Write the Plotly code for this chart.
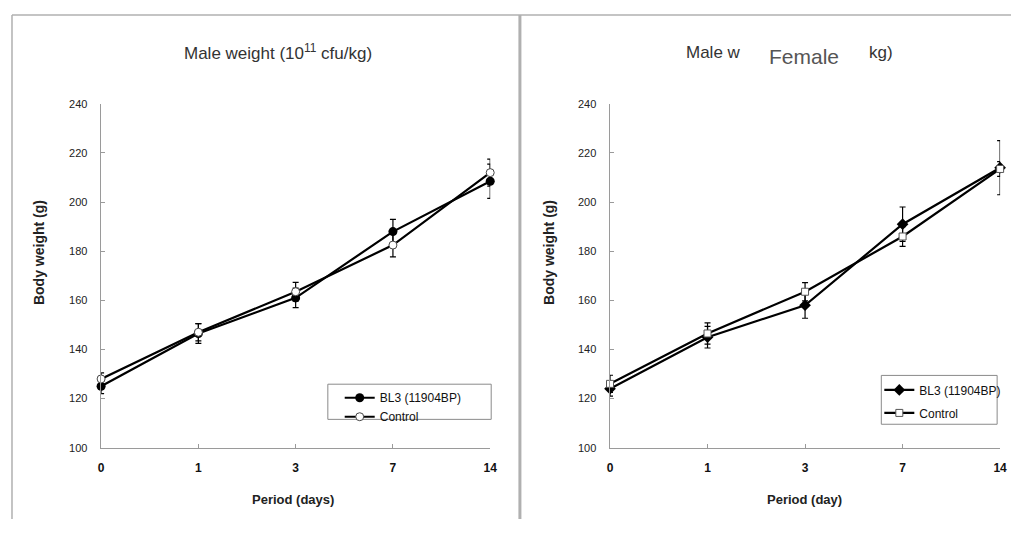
import plotly.graph_objects as go

# Reference canvas size; the page body has an 8px margin, so the figure is 16px smaller
W, H = 1026, 533
M = 8
FW, FH = W - 2 * M, H - 2 * M

days = ["0", "1", "3", "7", "14"]

male_bl3 = [125, 146.5, 161, 188, 208.5]
male_bl3_err = [3, 4, 4, 5, 7]
male_ctrl = [128, 147, 163.5, 182.5, 212]
male_ctrl_err = [2.5, 3.5, 3.8, 4.8, 5.5]

female_bl3 = [124, 145, 158, 191, 214]
female_bl3_err = [3, 4.4, 5.3, 7, 11]
female_ctrl = [126, 146.5, 163.5, 186, 213.5]
female_ctrl_err = [3.5, 4.3, 3.7, 4, 3]

y_ticks = [100, 120, 140, 160, 180, 200, 220, 240]


def px(x):
    return min(max((x - M) / FW, 0), 1)


def py(y):
    return min(max((H - M - y) / FH, 0), 1)


fig = go.Figure()

err_style = dict(type="data", color="black", thickness=1.2, width=3)

fig.add_trace(go.Scatter(
    x=days, y=male_bl3, name="BL3 (11904BP)", mode="lines+markers",
    line=dict(color="black", width=2.2),
    marker=dict(symbol="circle", size=9, color="black"),
    error_y=dict(array=male_bl3_err, **err_style),
    xaxis="x", yaxis="y", legend="legend", cliponaxis=False, legendgroup="a"))
fig.add_trace(go.Scatter(
    x=days, y=male_ctrl, name="Control", mode="lines+markers",
    line=dict(color="black", width=2.2),
    marker=dict(symbol="circle", size=8, color="white", line=dict(color="#444", width=1)),
    error_y=dict(array=male_ctrl_err, **err_style),
    xaxis="x", yaxis="y", legend="legend", cliponaxis=False, legendgroup="b"))

fig.add_trace(go.Scatter(
    x=days, y=female_bl3, name="BL3 (11904BP)", mode="lines+markers",
    line=dict(color="black", width=2.2),
    marker=dict(symbol="diamond", size=9, color="black"),
    error_y=dict(array=female_bl3_err, **err_style),
    xaxis="x2", yaxis="y2", legend="legend2", cliponaxis=False, legendgroup="c"))
fig.add_trace(go.Scatter(
    x=days, y=female_ctrl, name="Control", mode="lines+markers",
    line=dict(color="black", width=2.2),
    marker=dict(symbol="square", size=7, color="white", line=dict(color="#555", width=1)),
    error_y=dict(array=female_ctrl_err, **err_style),
    xaxis="x2", yaxis="y2", legend="legend2", cliponaxis=False, legendgroup="d"))

axis_common = dict(showline=True, linecolor="#9a9a9a", linewidth=1.5, ticks="inside",
                   ticklen=4, tickcolor="#9a9a9a", showgrid=False, zeroline=False,
                   fixedrange=True)

xfont = dict(family="Liberation Sans, Arial", size=12, color="#111", weight="bold")
yfont = dict(family="Liberation Sans, Arial", size=11, color="#222")

legend_common = dict(bgcolor="rgba(0,0,0,0)", borderwidth=0,
                     font=dict(family="Liberation Sans, Arial", size=12, color="#111"),
                     xanchor="left", yanchor="top", traceorder="grouped")

fig.update_layout(
    width=FW, height=FH,
    margin=dict(l=0, r=0, t=0, b=0),
    paper_bgcolor="white", plot_bgcolor="white",
    showlegend=True,
    xaxis=dict(domain=[px(99), px(492)], type="category", range=[0, 4], anchor="y",
               tickfont=xfont, ticklabelstandoff=8, **axis_common),
    yaxis=dict(domain=[py(452), py(100)], range=[100, 240], tickvals=y_ticks, anchor="x",
               tickfont=yfont, ticklabelstandoff=10, **axis_common),
    xaxis2=dict(domain=[px(613), px(1007)], type="category", range=[0, 4], anchor="y2",
                tickfont=xfont, ticklabelstandoff=8, **axis_common),
    yaxis2=dict(domain=[py(452), py(100)], range=[100, 240], tickvals=y_ticks, anchor="x2",
                tickfont=yfont, ticklabelstandoff=10, **axis_common),
    legend=dict(x=px(340), y=py(386), tracegroupgap=0, **legend_common),
    legend2=dict(x=px(885), y=py(378), tracegroupgap=4, **legend_common),
)

# panel frames and legend boxes
frame = dict(color="#b0b0b0", width=1.5)
fig.add_shape(type="line", xref="paper", yref="paper", x0=px(9), x1=1, y0=py(9), y1=py(9), line=frame)
fig.add_shape(type="line", xref="paper", yref="paper", x0=px(9), x1=px(9), y0=py(9), y1=0, line=frame)
fig.add_shape(type="line", xref="paper", yref="paper", x0=px(522), x1=px(522), y0=py(9), y1=0,
              line=dict(color="#b0b0b0", width=3))
fig.add_shape(type="rect", xref="paper", yref="paper", x0=px(328), x1=px(493), y0=py(387), y1=py(423),
              line=dict(color="#8a8a8a", width=1))
fig.add_shape(type="rect", xref="paper", yref="paper", x0=px(887), x1=px(1004), y0=py(378), y1=py(428),
              line=dict(color="#8a8a8a", width=1))

title_font = dict(family="Liberation Sans, Arial", size=17, color="#333")
axis_title_font = dict(family="Liberation Sans, Arial", size=13, color="#222", weight="bold")
ytitle_font = dict(family="Liberation Sans, Arial", size=14, color="#222", weight="bold")

ann = [
    dict(text="Male weight (10<sup>11</sup> cfu/kg)", x=px(278), y=py(47), font=title_font),
    dict(text="Male w", x=px(747), y=py(47), xanchor="right", font=title_font),
    dict(text="Female", x=px(809), y=py(52),
         font=dict(family="Liberation Sans, Arial", size=21, color="#555")),
    dict(text="kg)", x=px(873), y=py(47), xanchor="left", font=title_font),
    dict(text="Body weight (g)", x=px(37), y=py(252), textangle=-90, font=ytitle_font),
    dict(text="Body weight (g)", x=px(552), y=py(252), textangle=-90, font=ytitle_font),
    dict(text="Period (days)", x=px(293), y=py(505), font=axis_title_font),
    dict(text="Period (day)", x=px(809), y=py(505), font=axis_title_font),
]
for a in ann:
    a.setdefault("xanchor", "center")
    fig.add_annotation(xref="paper", yref="paper", showarrow=False, yanchor="middle", **a)

fig.write_html("out.html", config={"displayModeBar": False, "staticPlot": True})
